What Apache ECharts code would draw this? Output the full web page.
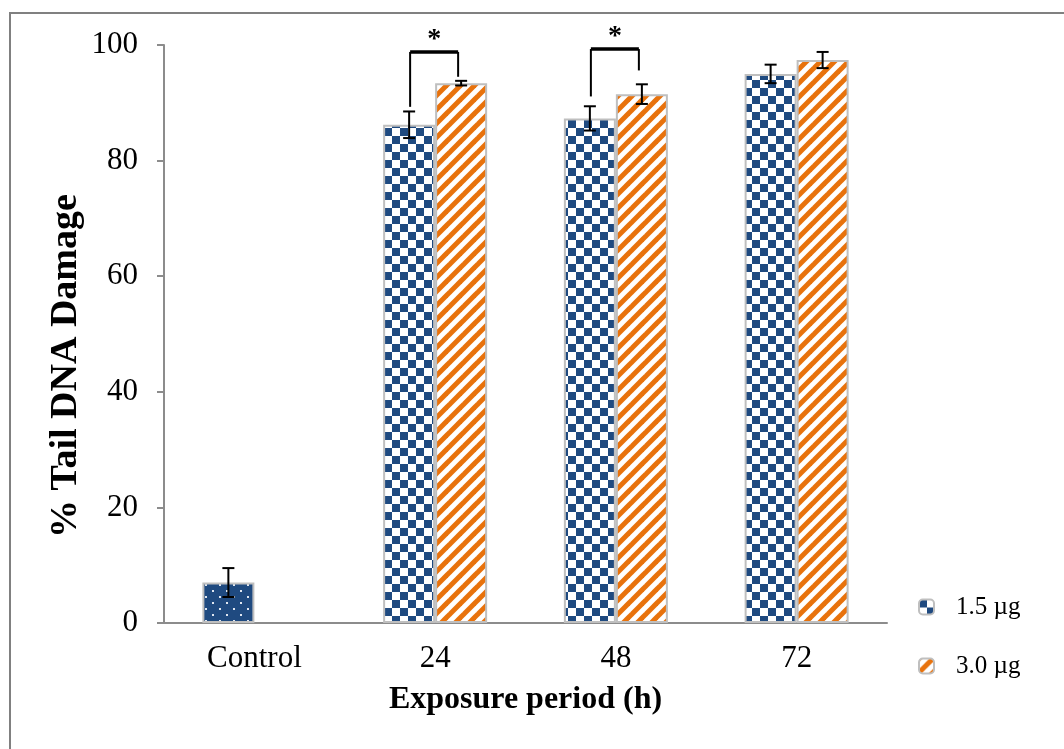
<!DOCTYPE html>
<html>
<head>
<meta charset="utf-8">
<script src="https://cdn.jsdelivr.net/npm/echarts@6/dist/echarts.min.js"></script>
<style>html,body{margin:0;padding:0;background:#fff}#c{width:1064px;height:749px}</style>
</head>
<body>
<div id="c"></div>
<script>
// ---- data ----
const categories = ['Control', '24', '48', '72'];
const seriesNames = ['1.5 µg', '3.0 µg'];
const values15 = [7.0, 86.2, 87.3, 95.0];
const errors15 = [2.5, 2.3, 2.1, 1.6];
const values30 = [null, 93.4, 91.5, 97.4];
const errors30 = [null, 0.4, 1.7, 1.4];
// significance brackets: [category index, left leg bottom, bracket top, right leg bottom]
const brackets = [[1, 89.3, 98.8, 94.5], [2, 91.1, 99.3, 95.6]];
const bracketLabel = '*';
const yTicks = { min: 0, max: 100, interval: 20 };
const xTitle = 'Exposure period (h)';
const yTitle = '% Tail DNA Damage';

// ---- patterns ----
const BLUE = '#1F4A80', ORANGE = '#E8720C';
function makeCanvas(w, h, draw) { const c = document.createElement('canvas'); c.width = w; c.height = h; draw(c.getContext('2d')); return c; }
const checker = makeCanvas(16, 16, g => { g.fillStyle = '#fff'; g.fillRect(0, 0, 16, 16); g.fillStyle = BLUE; g.fillRect(0, 0, 8, 8); g.fillRect(8, 8, 8, 8); });
const stripes = makeCanvas(14, 14, g => {
  g.fillStyle = '#fff'; g.fillRect(0, 0, 14, 14);
  g.strokeStyle = ORANGE; g.lineWidth = 5;
  [[-14, 14, 14, -14], [0, 14, 14, 0], [0, 28, 28, 0]].forEach(l => { g.beginPath(); g.moveTo(l[0], l[1]); g.lineTo(l[2], l[3]); g.stroke(); });
});
const dots = makeCanvas(14, 12, g => { g.fillStyle = BLUE; g.fillRect(0, 0, 14, 12); g.fillStyle = '#dfe6f0'; g.fillRect(2, 2, 2, 2); g.fillRect(9, 8, 2, 2); });

const FONT = '"Liberation Serif","Times New Roman",serif';
const BAR_W = 52;

function errData(vals, errs) { return vals.map((v, i) => v == null ? null : [i, v, errs[i]]).filter(d => d); }
function errorSeries(vals, errs, off) {
  return {
    type: 'custom', silent: true, z: 10,
    data: errData(vals, errs),
    renderItem: function (params, api) {
      const i = api.value(0), v = api.value(1), e = api.value(2);
      const top = api.coord([i, v + e]), bot = api.coord([i, v - e]);
      const x = top[0] + off, st = { stroke: '#000', lineWidth: 2 };
      return { type: 'group', children: [
        { type: 'line', shape: { x1: x, y1: top[1], x2: x, y2: bot[1] }, style: st },
        { type: 'line', shape: { x1: x - 6, y1: top[1], x2: x + 6, y2: top[1] }, style: st },
        { type: 'line', shape: { x1: x - 6, y1: bot[1], x2: x + 6, y2: bot[1] }, style: st }
      ] };
    }
  };
}

const chart = echarts.init(document.getElementById('c'));
chart.setOption({
  animation: false,
  backgroundColor: '#fff',
  graphic: [
    { type: 'polyline', shape: { points: [[10, 749], [10, 13], [1064, 13]] }, style: { stroke: '#808080', lineWidth: 2, fill: null } },
    { type: 'text', x: 66, y: 366, rotation: Math.PI / 2,
      style: { text: yTitle, align: 'center', verticalAlign: 'middle', font: 'bold 38px ' + FONT, fill: '#000' } }
  ],
  grid: { left: 164, right: 177, top: 45, bottom: 126 },
  legend: {
    orient: 'vertical', left: 913, top: 589,
    itemWidth: 15, itemHeight: 15, itemGap: 33,
    data: seriesNames,
    textStyle: { fontFamily: FONT, fontSize: 25, color: '#000', lineHeight: 26, padding: [0, 0, 0, 17] }
  },
  xAxis: {
    type: 'category', data: categories,
    axisLine: { lineStyle: { color: '#8c8c8c', width: 2 } },
    axisTick: { length: 7, lineStyle: { color: '#8c8c8c', width: 2 } },
    axisLabel: { fontFamily: FONT, fontSize: 31, color: '#000', margin: 20 },
    name: xTitle, nameLocation: 'middle', nameGap: 61,
    nameTextStyle: { fontFamily: FONT, fontSize: 32, fontWeight: 'bold', color: '#000' }
  },
  yAxis: {
    type: 'value', min: yTicks.min, max: yTicks.max, interval: yTicks.interval,
    axisLine: { show: true, lineStyle: { color: '#8c8c8c', width: 2 } },
    axisTick: { show: true, length: 7, lineStyle: { color: '#8c8c8c', width: 2 } },
    splitLine: { show: false },
    axisLabel: { fontFamily: FONT, fontSize: 31, color: '#000', margin: 26 }
  },
  series: [
    {
      name: seriesNames[0], type: 'bar', barWidth: BAR_W, barGap: '0%',
      itemStyle: { color: { image: checker, repeat: 'repeat' }, borderColor: '#bfbfbf', borderWidth: 2 },
      data: values15.map((v, i) => i === 0 ? { value: v, itemStyle: { color: { image: dots, repeat: 'repeat' } } } : v)
    },
    {
      name: seriesNames[1], type: 'bar', barWidth: BAR_W, barGap: '0%',
      itemStyle: { color: { image: stripes, repeat: 'repeat' }, borderColor: '#bfbfbf', borderWidth: 2 },
      data: values30
    },
    errorSeries(values15, errors15, -BAR_W / 2),
    errorSeries(values30, errors30, BAR_W / 2),
    {
      type: 'custom', silent: true, z: 11,
      data: brackets,
      renderItem: function (params, api) {
        const i = api.value(0);
        const lb = api.coord([i, api.value(1)]), tp = api.coord([i, api.value(2)]), rb = api.coord([i, api.value(3)]);
        const xl = lb[0] - 25, xr = lb[0] + 23;
        const st = { stroke: '#000', lineWidth: 2 };
        return { type: 'group', children: [
          { type: 'line', shape: { x1: xl, y1: lb[1], x2: xl, y2: tp[1] }, style: st },
          { type: 'line', shape: { x1: xl, y1: tp[1], x2: xr, y2: tp[1] }, style: { stroke: '#000', lineWidth: 3.5 } },
          { type: 'line', shape: { x1: xr, y1: tp[1], x2: xr, y2: rb[1] }, style: st },
          { type: 'text', style: { text: bracketLabel, x: (xl + xr) / 2, y: tp[1] + 2, align: 'center', verticalAlign: 'bottom', font: 'bold 28px ' + FONT, fill: '#000' } }
        ] };
      }
    }
  ]
});
</script>
</body>
</html>
